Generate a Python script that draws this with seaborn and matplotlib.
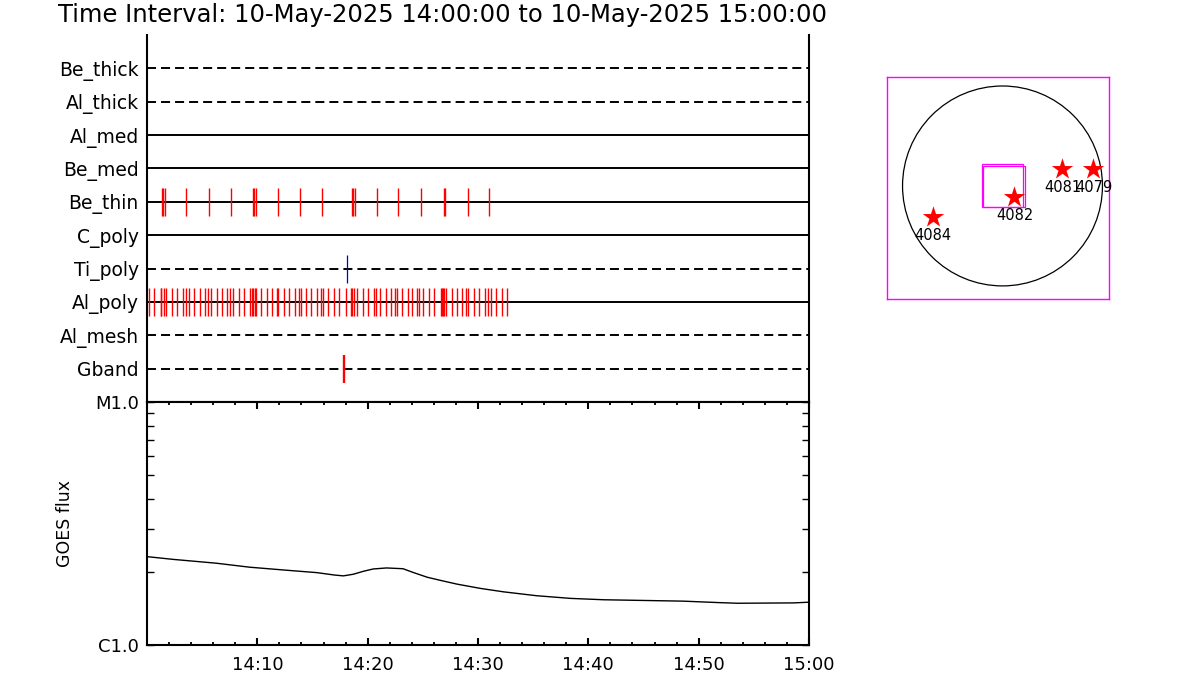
import matplotlib
matplotlib.use("Agg")
import matplotlib.pyplot as plt
from matplotlib.patches import Circle, Rectangle
from matplotlib.ticker import FixedLocator, NullFormatter
import numpy as np
import seaborn as sns


# ── Data ──────────────────────────────────────────────────────────────────────

title = "Time Interval: 10-May-2025 14:00:00 to 10-May-2025 15:00:00"

# filter channels, bottom row first
channels = ["Gband", "Al_mesh", "Al_poly", "Ti_poly", "C_poly",
            "Be_thin", "Be_med", "Al_med", "Al_thick", "Be_thick"]

# exposure times, minutes after 14:00
be_thin_times = [1.35, 1.45, 1.65, 3.55, 5.63, 7.62, 9.6, 9.7, 9.87, 11.86,
                 13.85, 15.84, 18.55, 18.65, 18.82, 20.80, 22.79, 24.82,
                 26.9, 27.0, 29.06, 31.01]
al_poly_times = [0.21, 0.66, 1.23, 1.29, 1.57, 1.75, 2.29, 2.74, 3.28, 3.55,
                 3.82, 4.28, 4.82, 5.27, 5.54, 5.81, 6.35, 6.80, 7.26, 7.53,
                 7.80, 8.34, 8.79, 9.33, 9.54, 9.60, 9.82, 9.88, 10.33, 10.87,
                 11.32, 11.77, 11.83, 12.41, 12.86, 13.40, 13.76, 13.94, 14.39,
                 14.84, 15.39, 15.75, 15.93, 16.38, 16.92, 17.37, 18.01, 18.46,
                 18.55, 18.73, 19.00, 19.54, 19.99, 20.54, 20.72, 21.08, 21.62,
                 22.07, 22.52, 22.70, 23.07, 23.61, 24.06, 24.51, 24.69, 25.05,
                 25.59, 26.05, 26.62, 26.71, 26.80, 26.95, 27.13, 27.67, 28.12,
                 28.58, 28.94, 29.12, 29.66, 30.11, 30.65, 30.92, 31.20, 31.65,
                 32.19, 32.64]
ti_poly_times = [18.1]
gband_times = [17.86]

# GOES curve
goes_minutes = [0.0, 2.4, 6.3, 9.3, 12.4, 15.4, 17.0, 17.8, 18.7, 19.6, 20.5,
                21.7, 23.2, 24.1, 25.4, 26.7, 28.1, 30.2, 32.3, 35.3, 38.4,
                41.4, 48.6, 51.7, 53.5, 58.6, 60.0]
goes_flux = [2.31e-6, 2.25e-6, 2.17e-6, 2.09e-6, 2.035e-6, 1.985e-6, 1.94e-6,
             1.925e-6, 1.955e-6, 2.01e-6, 2.055e-6, 2.075e-6, 2.06e-6,
             1.99e-6, 1.90e-6, 1.84e-6, 1.78e-6, 1.71e-6, 1.655e-6, 1.595e-6,
             1.555e-6, 1.535e-6, 1.515e-6, 1.495e-6, 1.485e-6, 1.49e-6, 1.50e-6]

xtick_minutes = [10, 20, 30, 40, 50, 60]
xtick_labels = ["14:10", "14:20", "14:30", "14:40", "14:50", "15:00"]
goes_tick_values = [1e-6, 1e-5]
goes_tick_labels = ["C1.0", "M1.0"]

# active regions on the disk, solar radii
ar_numbers = ["4084", "4082", "4081", "4079"]
ar_x = [-0.70, 0.12, 0.60, 0.91]
ar_y = [-0.31, -0.11, 0.17, 0.17]
# field of view boxes: x0, y0, width, height (solar radii)
fov_boxes = [(-0.21, -0.207, 0.42, 0.424), (-0.197, -0.213, 0.427, 0.416)]


# ── Styling ───────────────────────────────────────────────────────────────────

sns.set_theme(style="white")
plt.rcParams["font.family"] = ["DejaVu Sans"]
plt.rcParams["lines.scale_dashes"] = False
for key in ("text.color", "axes.labelcolor", "xtick.color", "ytick.color"):
    plt.rcParams[key] = "black"

dashed_rows = {"Gband", "Al_mesh", "Ti_poly", "Al_thick", "Be_thick"}
events = {
    "Be_thin": (be_thin_times, "red", 1.0),
    "Al_poly": (al_poly_times, "red", 1.0),
    "Ti_poly": (ti_poly_times, "#0000cc", 0.9),
    "Gband":   (gband_times, "red", 1.7),
}

fig = plt.figure(figsize=(12, 7), dpi=100)
ax_t = fig.add_axes([0.1225, 0.4257, 0.5517, 0.5243])
ax_g = fig.add_axes([0.1225, 0.0786, 0.5517, 0.3471])
ax_s = fig.add_axes([0.739, 0.573, 0.185, 0.317])

fig.text(0.048, 0.978, title, fontsize=17.5, va="center", ha="left")


# ── Timeline panel ────────────────────────────────────────────────────────────

for i, name in enumerate(channels, start=1):
    ls = (0, (6.5, 3.6)) if name in dashed_rows else "-"
    ax_t.axhline(i, color="black", lw=1.4, ls=ls, zorder=1)
    if name in events:
        times, col, lw = events[name]
        ax_t.vlines(times, i - 0.42, i + 0.42, color=col, lw=lw, zorder=2)

ax_t.set_xlim(0, 60)
ax_t.set_ylim(0, 11)
ax_t.set_yticks(range(1, len(channels) + 1))
ax_t.set_yticklabels(channels, fontsize=13.5)
ax_t.set_xticks(xtick_minutes)
ax_t.set_xticklabels([])
ax_t.xaxis.set_minor_locator(FixedLocator(np.arange(0, 61, 2)))
ax_t.tick_params(axis="x", which="major", direction="in", length=5, width=1.5)
ax_t.tick_params(axis="x", which="minor", direction="in", length=2.5, width=1.3)
ax_t.tick_params(axis="y", which="major", direction="in", length=2, width=1, pad=6)
ax_t.spines["top"].set_visible(False)
for s in ("left", "right", "bottom"):
    ax_t.spines[s].set_linewidth(1.5)
    ax_t.spines[s].set_color("black")


# ── GOES panel ────────────────────────────────────────────────────────────────

sns.lineplot(x=goes_minutes, y=goes_flux, ax=ax_g, color="black", lw=1.0)
ax_g.set_yscale("log")
ax_g.set_xlim(0, 60)
ax_g.set_ylim(1e-6, 1e-5)
ax_g.set_yticks(goes_tick_values)
ax_g.set_yticklabels(goes_tick_labels, fontsize=13)
ax_g.yaxis.set_minor_locator(FixedLocator(np.arange(2, 10) * 1e-6))
ax_g.yaxis.set_minor_formatter(NullFormatter())
ax_g.set_xticks(xtick_minutes)
ax_g.set_xticklabels(xtick_labels, fontsize=13)
ax_g.xaxis.set_minor_locator(FixedLocator(np.arange(0, 61, 2)))
ax_g.tick_params(axis="x", which="major", direction="in", length=5, width=1.5,
                 top=True, bottom=True, pad=8)
ax_g.tick_params(axis="x", which="minor", direction="in", length=2.5, width=1.3,
                 top=True, bottom=True)
ax_g.tick_params(axis="y", which="both", direction="in", length=5, width=1,
                 left=True, right=True, pad=6)
ax_g.set_ylabel("GOES flux", fontsize=12.5)
ax_g.yaxis.set_label_coords(-0.11, 0.5)
for s in ax_g.spines.values():
    s.set_linewidth(1.5)
    s.set_color("black")


# ── Solar disk panel ──────────────────────────────────────────────────────────

ax_s.add_patch(Circle((0, 0), 1.0, fill=False, ec="black", lw=0.9))
for x0, y0, w, h in fov_boxes:
    ax_s.add_patch(Rectangle((x0, y0), w, h, fill=False, ec="#ff00ff", lw=0.9))
sns.scatterplot(x=ar_x, y=ar_y, ax=ax_s, marker="*", s=260, color="red",
                linewidth=0, zorder=3)
for num, x, y in zip(ar_numbers, ar_x, ar_y):
    ax_s.text(x, y - 0.19, num, ha="center", va="center", fontsize=10.5)
ax_s.set_xlim(-1.157, 1.063)
ax_s.set_ylim(-1.13, 1.09)
ax_s.set_aspect("equal")
ax_s.set_xticks([])
ax_s.set_yticks([])
for s in ax_s.spines.values():
    s.set_visible(True)
    s.set_linewidth(1.0)
    s.set_color("#ff00ff")

fig.savefig("out.png", dpi=100)
